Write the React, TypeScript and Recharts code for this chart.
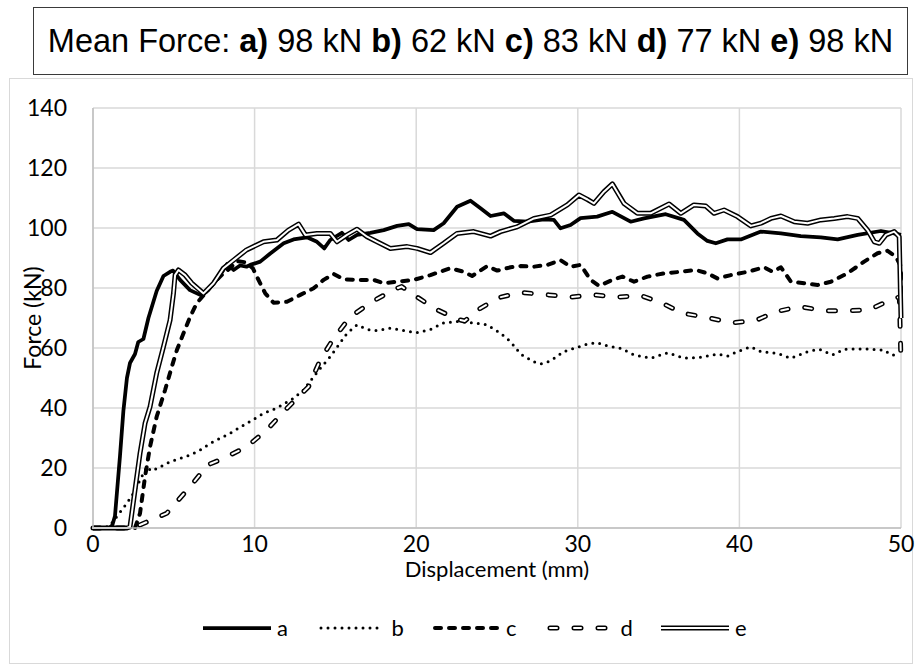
import { LineChart, Line, XAxis, YAxis, CartesianGrid } from 'recharts';

type Pt = [number, number];

// displacement (mm), force (kN) for each test
const SERIES_A: Pt[] = [
  [0, 0], [1.0, 0], [1.2, 1], [1.36, 4], [1.67, 24], [1.88, 39], [2.1, 50], [2.29, 55],
  [2.6, 58], [2.8, 62], [3.12, 63], [3.43, 70], [3.94, 79], [4.36, 84], [4.77, 85.4],
  [4.95, 85.8], [5.39, 82.7], [6.0, 79.3], [6.63, 77.7], [7.04, 78.8], [7.66, 82.7],
  [8.07, 86], [8.3, 88], [8.7, 86], [9.1, 87.5], [9.5, 87.1], [9.73, 87.7], [10.35, 88.8],
  [10.97, 91.5], [11.8, 94.9], [12.41, 96.2], [13.24, 96.9], [13.86, 95.4], [14.31, 93.2],
  [14.68, 96], [15.4, 98.4], [15.82, 96], [16.34, 97.7], [17.16, 98.4], [17.99, 99.3],
  [18.82, 100.7], [19.54, 101.3], [20.05, 99.6], [21.08, 99.3], [21.7, 101.6], [22.53, 107.1],
  [23.36, 109.1], [23.98, 106.6], [24.6, 104], [25.42, 104.9], [26.04, 102.4], [26.87, 102.1],
  [27.9, 102.9], [28.52, 102.7], [28.93, 99.9], [29.55, 101], [30.17, 103.3], [31.2, 103.8],
  [32.14, 105.4], [33.27, 102.1], [34.1, 103.2], [35.44, 104.6], [36.57, 102.7], [37.4, 98.2],
  [38.02, 95.7], [38.54, 94.9], [39.26, 96.2], [40.09, 96.2], [41.33, 98.8], [42.57, 98.2],
  [43.8, 97.3], [45.04, 96.9], [46.08, 96.2], [47.32, 97.7], [48.76, 99], [49.58, 98.2],
  [50, 97.7],
];

const SERIES_B: Pt[] = [
  [0, 0], [1.0, 0.5], [1.47, 3.8], [2.09, 8.2], [2.5, 11.6], [2.91, 16], [3.33, 20.4],
  [3.6, 19], [3.95, 19.8], [4.77, 22.1], [6.01, 24.3], [6.63, 26], [7.25, 28.2], [8.49, 31.6],
  [9.52, 34.9], [10.55, 38.2], [11.38, 40], [12.41, 43.2], [13.03, 46], [13.65, 50.4],
  [14.06, 53.2], [14.68, 57.1], [15.2, 61], [15.72, 64.9], [16.34, 67.7], [16.96, 66.2],
  [17.58, 65.8], [18.4, 66.6], [19.23, 65.8], [20.05, 65.1], [20.88, 66.2], [21.7, 68.4],
  [22.53, 68.8], [23.56, 68.4], [24.39, 67.7], [25.22, 64.9], [25.84, 62.1], [26.46, 58],
  [27.28, 55.4], [27.7, 54.7], [28.31, 55.7], [29.14, 58.8], [29.76, 59.9], [30.59, 61.3],
  [31.2, 61.8], [31.83, 60.7], [32.65, 59.9], [33.48, 57.7], [34.51, 56.6], [35.55, 58.4],
  [36.57, 56.6], [37.61, 56.9], [38.64, 58], [39.26, 57.3], [39.88, 58.8], [40.71, 60.4],
  [41.33, 58.8], [42.36, 58.2], [43.19, 56.6], [44.22, 58.8], [44.94, 59.6], [45.77, 57.7],
  [46.49, 59.6], [47.72, 59.7], [48.96, 59.3], [49.38, 57.7], [49.9, 57.7],
];

const SERIES_C: Pt[] = [
  [0, 0], [2.6, 0], [2.91, 4.9], [3.22, 17.1], [3.53, 27.1], [3.94, 37.1], [4.46, 46],
  [4.88, 53.8], [5.19, 59.3], [5.6, 64.9], [6.01, 70.4], [6.42, 74.9], [6.94, 78.2],
  [7.46, 81.6], [8.07, 84.9], [8.49, 86.6], [8.9, 89], [9.5, 88.5], [9.9, 86.5], [10.14, 83.8],
  [10.66, 78.2], [11.17, 75.1], [12.0, 75.4], [12.83, 77.7], [13.65, 79.9], [14.27, 82.7],
  [14.89, 84.7], [15.51, 82.9], [16.54, 82.7], [17.37, 82.7], [17.99, 81.6], [18.82, 82.1],
  [19.85, 82.7], [20.88, 84.3], [22.12, 86.6], [22.94, 85.4], [23.46, 84], [24.39, 87.3],
  [25.01, 85.8], [25.84, 86.9], [26.46, 87.3], [27.28, 87.1], [28.11, 87.7], [28.93, 89.3],
  [29.55, 87.1], [30.17, 87.7], [30.79, 82.7], [31.31, 80.7], [32.14, 82.7], [32.76, 83.8],
  [33.48, 82.1], [34.31, 83.8], [35.34, 84.9], [36.37, 85.4], [37.3, 86], [38.02, 84.9],
  [38.64, 83.2], [39.47, 84.3], [40.5, 85.4], [41.53, 86.9], [42.05, 85.4], [42.57, 86.9],
  [43.19, 82.1], [44.01, 81.6], [44.84, 81], [45.66, 82.1], [46.69, 84.9], [47.72, 88.8],
  [48.55, 91.6], [49.17, 92.4], [49.69, 90.4], [50, 87.1], [50, 72],
];

const SERIES_D: Pt[] = [
  [0, 0], [2.7, 0], [2.9, 1], [4.56, 4.9], [6.01, 13.8], [6.84, 19.3], [7.0, 20.8],
  [8.07, 23.2], [9.52, 27.1], [10.76, 32.7], [12.0, 39.9], [13.34, 47.1], [14.06, 56],
  [14.89, 63.2], [15.92, 70.4], [17.27, 75.4], [18.62, 79.5], [19.1, 80.5], [19.75, 78],
  [20.05, 77], [21.2, 73], [22.53, 69.6], [23.0, 69], [23.9, 73], [25.1, 76.8], [26.5, 78.5],
  [28.2, 77.7], [29.6, 77], [31.0, 77.7], [32.5, 77], [33.9, 77.5], [35.2, 75], [36.5, 71.6],
  [37.96, 70.2], [39.53, 68.4], [40.97, 69.1], [42.27, 72.1], [43.71, 73.8], [45.28, 72.4],
  [46.59, 72.4], [48.02, 72.7], [49.33, 76], [49.9, 77], [50, 55],
];

const SERIES_E: Pt[] = [
  [0, 0], [2.1, 0], [2.29, 0.4], [2.6, 12.7], [2.91, 24.9], [3.22, 34.9], [3.53, 40.4],
  [3.94, 51.6], [4.36, 60.4], [4.77, 69.3], [4.98, 78.2], [5.08, 84.3], [5.29, 86], [5.7, 84.3],
  [6.11, 81.6], [6.84, 78.2], [7.46, 81.6], [8.07, 86.6], [8.7, 89.3], [9.5, 92.7],
  [10.55, 95.4], [11.38, 96], [12.1, 99.3], [12.72, 101.3], [13.14, 97.7], [13.86, 98.2],
  [14.68, 98.2], [15.1, 95.4], [15.72, 97.7], [16.34, 99.6], [16.96, 97.1], [17.58, 95.4],
  [18.4, 93.2], [19.44, 93.8], [20.05, 93.2], [20.88, 91.8], [21.7, 94.9], [22.53, 98.2],
  [23.56, 98.8], [24.6, 97.3], [25.22, 98.8], [26.25, 100.4], [27.29, 103.2], [28.31, 104.3],
  [29.35, 107.7], [30.07, 111], [30.6, 109.5], [31.0, 108.2], [31.62, 112.1], [32.14, 114.7],
  [32.86, 108.2], [33.69, 104.9], [34.51, 104.9], [35.65, 108], [36.37, 104.9], [37.19, 107.7],
  [37.92, 107.3], [38.43, 104.9], [39.05, 106], [39.88, 103.8], [40.71, 100.7], [41.33, 101.6],
  [41.95, 103.2], [42.57, 104], [43.39, 102.1], [44.22, 101.6], [45.04, 102.7], [45.87, 103.2],
  [46.69, 103.8], [47.32, 103.2], [47.93, 99.3], [48.35, 95.4], [48.66, 94.9], [49.07, 97.7],
  [49.58, 98.8], [49.89, 97.1], [50, 70],
];

const SERIES_NAMES = ['a', 'b', 'c', 'd', 'e'];
const MEAN_FORCE_KN = [98, 62, 83, 77, 98];
const X_TICKS = [0, 10, 20, 30, 40, 50];
const Y_TICKS = [0, 20, 40, 60, 80, 100, 120, 140];

const FONT = 'Lato, "Open Sans", sans-serif';
const W = 919;
const H = 671;

const toRows = (pts: Pt[]) => pts.map(([x, y]) => ({ x, y }));

// outer stroke + optional white core gives the hollow "double line" look
type LineStyle = {
  width: number;
  dash?: string;
  cap?: 'round' | 'butt';
  core?: number;
};

const LINE_STYLES: Record<string, LineStyle> = {
  a: { width: 3.75 },
  b: { width: 3, dash: '0 7', cap: 'round' },
  c: { width: 4, dash: '6 8', cap: 'round' },
  d: { width: 5, dash: '7 17', cap: 'round', core: 2 },
  e: { width: 5, core: 2 },
};

const SERIES_DATA = [SERIES_A, SERIES_B, SERIES_C, SERIES_D, SERIES_E].map(toRows);

const ForceTitle = ({ viewBox }: any) => {
  const cx = viewBox.x + 32;
  const cy = viewBox.y + viewBox.height / 2;
  return (
    <text
      x={cx}
      y={cy}
      transform={`rotate(-90 ${cx} ${cy})`}
      textAnchor="middle"
      dominantBaseline="central"
      fontFamily={FONT}
      fontSize={23}
      fill="#000"
    >
      Force (kN)
    </text>
  );
};

const DisplacementTitle = ({ viewBox }: any) => {
  const cx = viewBox.x + viewBox.width / 2;
  const cy = viewBox.y + 40;
  return (
    <text
      x={cx}
      y={cy}
      textAnchor="middle"
      dominantBaseline="central"
      fontFamily={FONT}
      fontSize={22}
      fill="#000"
    >
      Displacement (mm)
    </text>
  );
};

function LegendSample({ name }: { name: string }) {
  const s = LINE_STYLES[name];
  const common = {
    x1: s.cap === 'round' ? 3 : 0,
    x2: s.cap === 'round' ? 65 : 68,
    y1: 8,
    y2: 8,
    strokeDasharray: s.dash,
    strokeLinecap: s.cap ?? 'butt',
  } as const;
  return (
    <svg width={68} height={16} style={{ display: 'block' }}>
      <line {...common} stroke="#000" strokeWidth={s.width} />
      {s.core ? <line {...common} stroke="#fff" strokeWidth={s.core} /> : null}
    </svg>
  );
}

export default function App() {
  return (
    <div
      style={{
        position: 'absolute',
        left: 0,
        top: 0,
        width: W,
        height: H,
        background: '#fff',
        fontFamily: FONT,
      }}
    >
      <div
        style={{
          position: 'absolute',
          left: 9,
          top: 78,
          width: 902,
          height: 584,
          border: '1px solid #d9d9d9',
        }}
      />
      <div
        style={{
          position: 'absolute',
          left: 33,
          top: 7,
          width: 873,
          height: 66,
          border: '1.5px solid #3a3a3a',
          display: 'flex',
          alignItems: 'center',
          justifyContent: 'center',
          fontFamily: '"Liberation Sans", Arial, sans-serif',
          fontSize: 32.5,
          color: '#000',
          whiteSpace: 'pre',
          background: '#fff',
        }}
      >
        <span>Mean Force:</span>
        {SERIES_NAMES.map((n, i) => (
          <span key={n}>
            {' '}
            <b>{n})</b> {MEAN_FORCE_KN[i]} kN
          </span>
        ))}
      </div>

      <div style={{ position: 'absolute', left: 0, top: 0 }}>
        <LineChart
          width={W}
          height={H}
          margin={{ top: 108, right: 18, left: 0, bottom: 83 }}
        >
          <CartesianGrid stroke="#d9d9d9" strokeWidth={1.5} />
          <XAxis
            type="number"
            dataKey="x"
            domain={[0, 50]}
            ticks={X_TICKS}
            height={60}
            tickSize={0}
            tickMargin={8}
            tickLine={false}
            axisLine={{ stroke: '#bfbfbf', strokeWidth: 1.5 }}
            tick={{ fontFamily: FONT, fontSize: 23, fill: '#000' }}
            label={<DisplacementTitle />}
          />
          <YAxis
            type="number"
            domain={[0, 140]}
            ticks={Y_TICKS}
            width={93}
            tickSize={0}
            tickMargin={26}
            tickLine={false}
            axisLine={{ stroke: '#bfbfbf', strokeWidth: 1.5 }}
            tick={{ fontFamily: FONT, fontSize: 23, fill: '#000' }}
            label={<ForceTitle />}
          />
          {SERIES_NAMES.flatMap((n, i) => {
            const s = LINE_STYLES[n];
            const lines = [
              <Line
                key={n}
                data={SERIES_DATA[i]}
                dataKey="y"
                type="linear"
                stroke="#000"
                strokeWidth={s.width}
                strokeDasharray={s.dash}
                strokeLinecap={s.cap ?? 'butt'}
                strokeLinejoin="round"
                dot={false}
                activeDot={false}
                isAnimationActive={false}
              />,
            ];
            if (s.core) {
              lines.push(
                <Line
                  key={`${n}-core`}
                  data={SERIES_DATA[i]}
                  dataKey="y"
                  type="linear"
                  stroke="#fff"
                  strokeWidth={s.core}
                  strokeDasharray={s.dash}
                  strokeLinecap={s.cap ?? 'butt'}
                  strokeLinejoin="round"
                  dot={false}
                  activeDot={false}
                  legendType="none"
                  isAnimationActive={false}
                />
              );
            }
            return lines;
          })}
        </LineChart>
      </div>

      {SERIES_NAMES.map((n, i) => (
        <div
          key={n}
          style={{
            position: 'absolute',
            left: 203 + i * 114.5,
            top: 616,
            display: 'flex',
            alignItems: 'center',
            gap: 6,
            fontSize: 22,
            color: '#000',
            lineHeight: '24px',
          }}
        >
          <LegendSample name={n} />
          <span>{n}</span>
        </div>
      ))}
    </div>
  );
}
